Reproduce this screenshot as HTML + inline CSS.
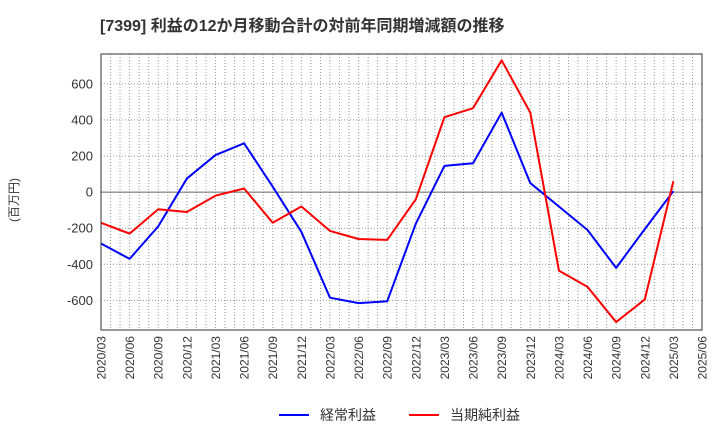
<!DOCTYPE html>
<html><head><meta charset="utf-8"><style>
body{margin:0;background:#fff;width:720px;height:440px;overflow:hidden;font-family:"Liberation Sans","Noto Sans CJK JP",sans-serif}
</style></head><body>
<svg width="720" height="440" xmlns="http://www.w3.org/2000/svg">
<text x="100" y="31" font-size="16" font-weight="bold" fill="#333">[7399]  利益の12か月移動合計の対前年同期増減額の推移</text>
<text transform="translate(18,200) rotate(-90)" font-size="12" fill="#333" text-anchor="middle">(百万円)</text>
<g id="grid"></g><g id="axes"></g><g id="series"></g>
<rect x="101" y="54" width="601" height="276" fill="none" stroke="#333" stroke-width="1"/>
<g>
<line x1="279" y1="415" x2="309" y2="415" stroke="#0000ff" stroke-width="2"/>
<text x="320" y="420" font-size="14" fill="#333">経常利益</text>
<line x1="409" y1="415" x2="439" y2="415" stroke="#ff0000" stroke-width="2"/>
<text x="450" y="420" font-size="14" fill="#333">当期純利益</text>
</g>
</svg>
<script>
const xLabels=["2020/03","2020/06","2020/09","2020/12","2021/03","2021/06","2021/09","2021/12","2022/03","2022/06","2022/09","2022/12","2023/03","2023/06","2023/09","2023/12","2024/03","2024/06","2024/09","2024/12","2025/03","2025/06"];
const yTicks=[-600,-400,-200,0,200,400,600];
const ordinary=[-285,-370,-190,75,205,270,30,-220,-585,-615,-605,-175,145,160,440,50,-80,-210,-420,-205,5];
const netIncome=[-170,-230,-95,-110,-20,20,-170,-80,-215,-260,-265,-40,415,465,730,440,-435,-525,-720,-595,60];
const NS="http://www.w3.org/2000/svg";
const X0=101,X1=702,Y0=54,Y1=330;
const yMax=765,yMin=-764;
const xs=i=>X0+(X1-X0)*i/(xLabels.length-1);
const ys=v=>Y0+(yMax-v)/(yMax-yMin)*(Y1-Y0);
function mk(t,a,p){const e=document.createElementNS(NS,t);for(const k in a)e.setAttribute(k,a[k]);p.appendChild(e);return e;}
const grid=document.getElementById('grid'),axes=document.getElementById('axes'),ser=document.getElementById('series');
const nM=(xLabels.length-1)*3;
for(let m=1;m<nM;m++){const x=X0+(X1-X0)*m/nM;
const l=mk('line',{x1:x,x2:x,y1:Y0,y2:Y1,stroke:'#999','stroke-width':1,'stroke-dasharray':'1,2'},grid);

}
yTicks.forEach(v=>{const y=ys(v);
const l=mk('line',{x1:X0,x2:X1,y1:y,y2:y,stroke:v===0?'#666':'#999','stroke-width':1,'stroke-dasharray':v===0?'':'1,2'},grid);


const t=mk('text',{x:X0-8,y:y+4.5,'font-size':13,fill:'#333','text-anchor':'end'},axes);t.textContent=v;

});
xLabels.forEach((s,i)=>{const x=xs(i);
const t=mk('text',{transform:`translate(${x+4.5},${Y1+6}) rotate(-90)`,'font-size':12,fill:'#333','text-anchor':'end'},axes);t.textContent=s;

});
function line(d,c,n){const p=mk('polyline',{points:d.map((v,i)=>xs(i)+','+ys(v)).join(' '),fill:'none',stroke:c,'stroke-width':2,'stroke-linejoin':'round'},ser);

}
line(ordinary,'#0000ff','series-ordinary-profit');
line(netIncome,'#ff0000','series-net-income');
</script>
</body></html>
